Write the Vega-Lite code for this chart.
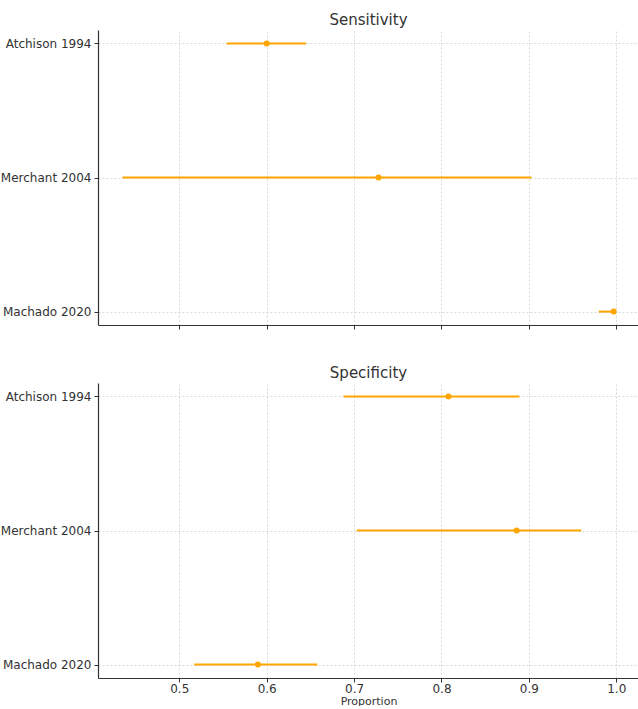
{
  "$schema": "https://vega.github.io/schema/vega-lite/v6.json",
  "padding": {"left": 0, "top": 13, "right": 0, "bottom": 0},
  "background": "white",
  "config": {
    "view": {"stroke": null},
    "font": "DejaVu Sans",
    "axis": {
      "gridColor": "#cfcfcf",
      "gridDash": [2, 2],
      "gridWidth": 0.8,
      "domainColor": "#333333",
      "domainWidth": 1.2,
      "tickColor": "#333333",
      "tickSize": 4,
      "labelColor": "#333333",
      "labelFont": "DejaVu Sans",
      "labelFontSize": 12,
      "labelPadding": 3,
      "titleFont": "DejaVu Sans",
      "titleFontSize": 11,
      "titleFontWeight": "normal",
      "titleColor": "#333333",
      "titlePadding": 1
    },
    "title": {"font": "DejaVu Sans", "fontSize": 15, "fontWeight": "normal", "color": "#333333", "offset": 2}
  },
  "datasets": {
    "sens": [
      {"study": "Atchison 1994", "est": 0.600, "lower": 0.554, "upper": 0.645},
      {"study": "Merchant 2004", "est": 0.728, "lower": 0.435, "upper": 0.903},
      {"study": "Machado 2020", "est": 0.997, "lower": 0.980, "upper": 0.997}
    ],
    "spec": [
      {"study": "Atchison 1994", "est": 0.808, "lower": 0.688, "upper": 0.889},
      {"study": "Merchant 2004", "est": 0.886, "lower": 0.703, "upper": 0.960},
      {"study": "Machado 2020", "est": 0.590, "lower": 0.517, "upper": 0.658}
    ]
  },
  "spacing": 36,
  "vconcat": [
    {
      "title": "Sensitivity",
      "width": 541,
      "height": 295,
      "data": {"name": "sens"},
      "encoding": {
        "y": {"field": "study", "type": "nominal", "sort": ["Atchison 1994", "Merchant 2004", "Machado 2020"],
              "scale": {"type": "point", "padding": 0.1}, "axis": {"title": null, "grid": true}}
      },
      "layer": [
        {
          "mark": {"type": "rule", "color": "#FFA500", "strokeWidth": 2},
          "encoding": {
            "x": {"field": "lower", "type": "quantitative", "scale": {"domain": [0.407, 1.026], "nice": false, "zero": false},
                  "axis": {"values": [0.5, 0.6, 0.7, 0.8, 0.9, 1.0], "labels": false, "title": null, "grid": true}},
            "x2": {"field": "upper"}
          }
        },
        {
          "mark": {"type": "point", "filled": true, "color": "#FFA500", "size": 36, "opacity": 1},
          "encoding": {"x": {"field": "est", "type": "quantitative"}}
        }
      ]
    },
    {
      "title": "Specificity",
      "width": 541,
      "height": 295,
      "data": {"name": "spec"},
      "encoding": {
        "y": {"field": "study", "type": "nominal", "sort": ["Atchison 1994", "Merchant 2004", "Machado 2020"],
              "scale": {"type": "point", "padding": 0.1}, "axis": {"title": null, "grid": true}}
      },
      "layer": [
        {
          "mark": {"type": "rule", "color": "#FFA500", "strokeWidth": 2},
          "encoding": {
            "x": {"field": "lower", "type": "quantitative", "scale": {"domain": [0.407, 1.026], "nice": false, "zero": false},
                  "axis": {"values": [0.5, 0.6, 0.7, 0.8, 0.9, 1.0], "format": ".1f", "title": "Proportion", "grid": true, "labelPadding": 1}},
            "x2": {"field": "upper"}
          }
        },
        {
          "mark": {"type": "point", "filled": true, "color": "#FFA500", "size": 36, "opacity": 1},
          "encoding": {"x": {"field": "est", "type": "quantitative"}}
        }
      ]
    }
  ]
}
